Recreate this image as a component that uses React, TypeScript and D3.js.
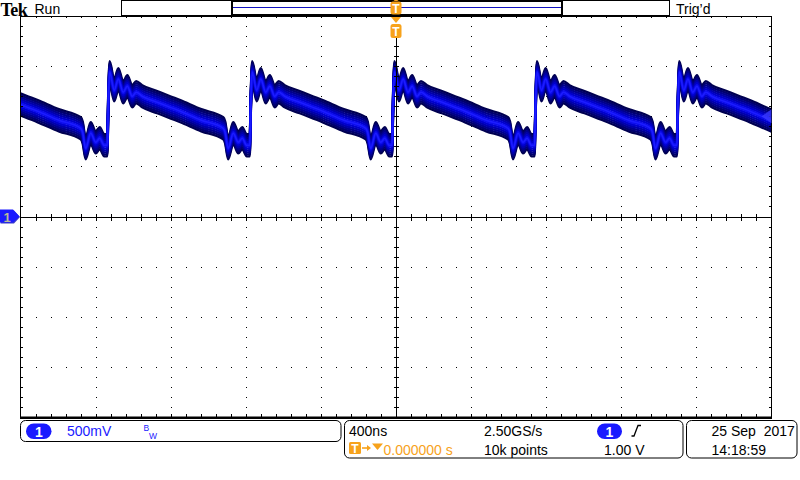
import React from "react";
import * as d3 from "d3";

// ---- data ----
// one period of the ch1 waveform, relative to its rising edge (ns, V)
const templateTimeNs = [0, 6, 13, 37, 59, 85, 107, 133, 154, 186, 266, 389, 501, 618, 628, 644, 671, 698, 719, 743, 756];
const templateVolts = [0.71, 1.16, 1.44, 1.26, 1.37, 1.24, 1.30, 1.20, 1.24, 1.20, 1.14, 1.05, 0.96, 0.88, 0.84, 0.68, 0.83, 0.74, 0.78, 0.71, 0.71];
// rising-edge times of each cycle (ns, relative to trigger)
const edgeTimesNs = [-2297, -1538, -779, -21, 738, 1496];
// persistence spread (V) of the displayed acquisitions
const persistOffsetsV = [0.11, 0.09, 0.07, 0.05, 0.03, 0.01];
const persistColors = ["#000050", "#00006c", "#00008a", "#0000aa", "#0000cc", "#0c0cec"];

const timeDomainNs = [-2000, 2000];
const voltDomain = [-2, 2];
const triggerLevelV = 1.0;

const headerLabels = ["Tek", "Run", "Trig\u2019d"];
const ch1Labels = ["1", "500mV", "B", "W"];
const timebaseLabels = ["400ns", "2.50GS/s", "10k points", "0.000000 s"];
const triggerLabels = ["1", "1.00 V"];
const dateLabels = ["25 Sep  2017", "14:18:59"];

const FONT = "'Liberation Sans', Arial, sans-serif";

export default function App() {
  const L = 20.5, R = 771.5, T = 16, B = 417;
  const x = d3.scaleLinear().domain(timeDomainNs).range([L, R]);
  const y = d3.scaleLinear().domain(voltDomain).range([B, T]);

  const majorX = d3.range(-2000, 2001, 400);
  const majorY = d3.range(-2, 2.001, 0.5);
  const minorX = d3.range(-2000, 2001, 80);
  const minorY = d3.range(-2, 2.001, 0.1);

  const pts: { t: number; v: number }[] = [];
  edgeTimesNs.forEach((e) => {
    templateTimeNs.forEach((tt, i) => pts.push({ t: e + tt, v: templateVolts[i] }));
  });
  const vis = pts.filter((p) => p.t > -2200 && p.t < 2200);

  const lineFor = (dv: number) =>
    d3
      .line<{ t: number; v: number }>()
      .x((p) => x(p.t))
      .y((p) => y(p.v + dv))
      .curve(d3.curveMonotoneX)(vis) || "";

  const cx = x(0);
  const cy = y(0);
  const dots: JSX.Element[] = [];
  // dotted grid
  majorX.forEach((mx, i) => {
    if (i === 0 || i === majorX.length - 1 || mx === 0) return;
    minorY.forEach((my, j) => {
      if (j === 0 || j === minorY.length - 1) return;
      dots.push(<rect key={`vx${i}-${j}`} x={Math.round(x(mx))} y={Math.round(y(my))} width={1} height={1} fill="#000" />);
    });
  });
  majorY.forEach((my, i) => {
    if (i === 0 || i === majorY.length - 1 || Math.abs(my) < 1e-9) return;
    minorX.forEach((mx, j) => {
      if (j === 0 || j === minorX.length - 1) return;
      dots.push(<rect key={`hy${i}-${j}`} x={Math.round(x(mx))} y={Math.round(y(my))} width={1} height={1} fill="#000" />);
    });
  });
  // border & center ticks
  const ticks: JSX.Element[] = [];
  minorX.forEach((mx, j) => {
    if (j === 0 || j === minorX.length - 1) return;
    const px = Math.round(x(mx)) + 0.5;
    ticks.push(<line key={`tt${j}`} x1={px} x2={px} y1={T} y2={T + 2} />);
    ticks.push(<line key={`tb${j}`} x1={px} x2={px} y1={B - 3} y2={B} />);
    ticks.push(<line key={`tc${j}`} x1={px} x2={px} y1={Math.round(cy) - 3} y2={Math.round(cy) + 4} />);
  });
  minorY.forEach((my, j) => {
    if (j === 0 || j === minorY.length - 1) return;
    const py = Math.round(y(my)) + 0.5;
    ticks.push(<line key={`tl${j}`} x1={L} x2={L + 2.5} y1={py} y2={py} />);
    ticks.push(<line key={`tr${j}`} x1={R - 2.5} x2={R} y1={py} y2={py} />);
    ticks.push(<line key={`tv${j}`} x1={Math.round(cx) - 2} x2={Math.round(cx) + 3} y1={py} y2={py} />);
  });

  const trigY = y(triggerLevelV);
  const orange = "#f7a21b";
  const blue = "#1a1aff";

  return (
    <svg width={800} height={480} style={{ position: "absolute", left: 0, top: 0, background: "#fff" }} fontFamily={FONT}>
      <rect x={0} y={0} width={800} height={480} fill="#fff" />
      <defs>
        <clipPath id="plotclip">
          <rect x={L} y={T} width={R - L} height={B - T} />
        </clipPath>
      </defs>

      {/* header */}
      <text x={0.5} y={15.5} fontFamily="'Liberation Serif', 'DejaVu Serif', serif" fontWeight="bold" fontSize={18} letterSpacing={-0.6}>{headerLabels[0]}</text>
      <text x={34.5} y={13.5} fontSize={14}>{headerLabels[1]}</text>
      <text x={676} y={13.5} fontSize={14}>{headerLabels[2]}</text>
      <rect x={121.5} y={0.5} width={548} height={15} fill="#fff" stroke="#000" strokeWidth={1} />
      <rect x={232} y={1} width={330} height={14} fill="#fff" stroke="#000" strokeWidth={2} />
      <line x1={233} x2={561} y1={7.5} y2={7.5} stroke="#1010c0" strokeWidth={1} />

      {/* grid */}
      <g>{dots}</g>

      {/* waveform persistence band */}
      <g clipPath="url(#plotclip)" fill="none" strokeWidth={2.4} strokeLinejoin="round">
        {persistOffsetsV.map((o, i) => (
          <g key={i} stroke={persistColors[i]}>
            <path d={lineFor(o)} />
            <path d={lineFor(-o)} />
          </g>
        ))}
        <path d={lineFor(0)} stroke="#1c1cff" strokeWidth={1.6} />
      </g>

      {/* center lines and border */}
      <g stroke="#000" strokeWidth={1} shapeRendering="crispEdges">
        {ticks}
        <line x1={Math.round(cx) + 0.5} x2={Math.round(cx) + 0.5} y1={38} y2={B} />
        <line x1={L} x2={R} y1={Math.round(cy) + 0.5} y2={Math.round(cy) + 0.5} />
        <line x1={L} x2={L} y1={T} y2={B} />
        <line x1={R} x2={R} y1={T} y2={B} />
        <line x1={L} x2={R} y1={T} y2={T} />
      </g>
      <rect x={L - 0.5} y={B - 0.5} width={R - L + 1} height={2.5} fill="#000" />

      {/* trigger markers */}
      <g>
        <path d={`M${cx - 2.5},1 L${cx},-1 L${cx + 2.5},1 Z`} fill={orange} />
        <rect x={cx - 5.5} y={1.5} width={11} height={13} rx={2.5} fill={orange} />
        <text x={cx} y={13} fontSize={12} fontWeight="bold" fill="#fff" textAnchor="middle">T</text>
        <path d={`M${cx - 5},17 L${cx + 5},17 L${cx},23 Z`} fill={orange} />
        <rect x={cx - 5.5} y={24} width={11} height={14} rx={2.5} fill={orange} />
        <text x={cx} y={36} fontSize={12} fontWeight="bold" fill="#fff" textAnchor="middle">T</text>
      </g>

      {/* ch1 ground marker */}
      <g>
        <path d={`M0.5,${cy - 6} L14,${cy - 6} L20,${cy + 0.5} L14,${cy + 7} L0.5,${cy + 7} Z`} fill="#3b3bc8" />
        <path d={`M0,${cy - 7} L13,${cy - 7} L19.5,${cy} L13,${cy + 6} L0,${cy + 6} Z`} fill={blue} />
        <text x={7} y={cy + 5} fontSize={13} fontWeight="bold" fill="#b9b99a" textAnchor="middle">1</text>
      </g>

      {/* trigger level marker */}
      <path d={`M${R - 10},${trigY} L${R},${trigY - 7} L${R},${trigY + 7} Z`} fill="#3a3aff" opacity={0.8} />

      {/* bottom panels */}
      <g fill="none" stroke="#000" strokeWidth={1}>
        <rect x={20.5} y={420.5} width={320.5} height={21} rx={5} />
        <rect x={344.5} y={420.5} width={338.5} height={37.5} rx={5} />
        <rect x={686.5} y={420.5} width={110.5} height={37.5} rx={5} />
      </g>
      <rect x={26} y={423.5} width={25.5} height={15.5} rx={7.7} fill={blue} />
      <text x={38.8} y={436.5} fontSize={14} fontWeight="bold" fill="#fff" textAnchor="middle">{ch1Labels[0]}</text>
      <text x={67} y={436} fontSize={14} fill={blue}>{ch1Labels[1]}</text>
      <text x={143.5} y={431} fontSize={8.5} fill={blue}>{ch1Labels[2]}</text>
      <text x={149} y={438.5} fontSize={8.5} fill={blue}>{ch1Labels[3]}</text>

      <text x={349} y={436} fontSize={14} fill="#000">{timebaseLabels[0]}</text>
      <text x={484} y={436} fontSize={14} fill="#000">{timebaseLabels[1]}</text>
      <text x={484} y={454.5} fontSize={14} fill="#000">{timebaseLabels[2]}</text>
      <rect x={349} y={442} width={12} height={12} rx={1.5} fill={orange} />
      <text x={355} y={452.5} fontSize={12} fontWeight="bold" fill="#fff" textAnchor="middle">T</text>
      <path d="M362,448 L369,448" stroke={orange} strokeWidth={1.6} />
      <path d="M367,445 L371,448 L367,451 Z" fill={orange} />
      <path d="M372,443.5 L383,443.5 L377.5,450 Z" fill={orange} />
      <text x={383.5} y={454.5} fontSize={14} fill={orange}>{timebaseLabels[3]}</text>

      <rect x={597} y={423.5} width={25} height={15.5} rx={7.7} fill={blue} />
      <text x={609.5} y={436.5} fontSize={14} fontWeight="bold" fill="#fff" textAnchor="middle">{triggerLabels[0]}</text>
      <path d="M631.5,436 L634,436 L638,425.5 L641,425.5" fill="none" stroke="#000" strokeWidth={1.3} />
      <text x={604} y={454.5} fontSize={14} fill="#000">{triggerLabels[1]}</text>

      <text x={711.5} y={436} fontSize={14} fill="#000" style={{ whiteSpace: "pre" }}>{dateLabels[0]}</text>
      <text x={711.5} y={454.5} fontSize={14} fill="#000">{dateLabels[1]}</text>
    </svg>
  );
}
